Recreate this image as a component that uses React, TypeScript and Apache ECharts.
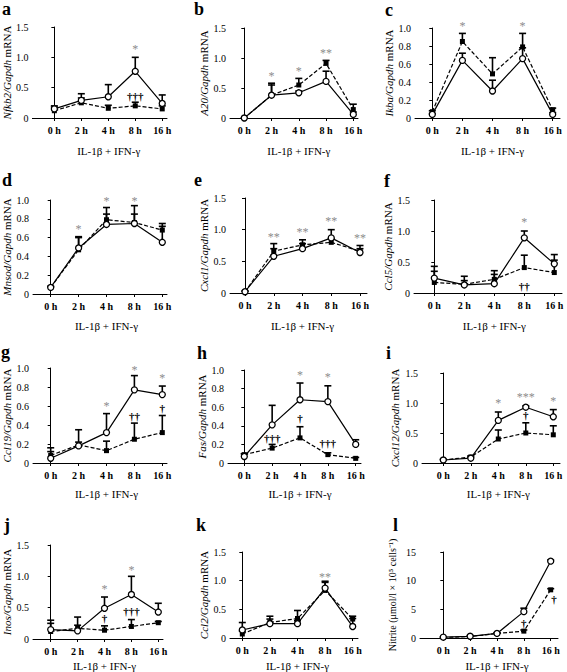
import React, { useEffect, useRef } from "react";
import * as echarts from "echarts";

const FONT = "Liberation Serif";
const times = ["0 h", "2 h", "4 h", "8 h", "16 h"];
const xTitle = "IL-1β + IFN-γ";

// a: Nfkb2
const nfkb2Solid = [0.15, 0.29, 0.35, 0.77, 0.24];
const nfkb2SolidErr = [0.2, 0.4, 0.55, 1.0, 0.38];
const nfkb2Dashed = [0.12, 0.25, 0.16, 0.2, 0.15];
const nfkb2DashedErr = [0.18, 0.33, 0.21, 0.26, 0.2];
const nfkb2Marks: [number, number, string][] = [[3, 1.13, "*"], [3, 0.37, "†††"]];
// b: A20
const a20Solid = [0, 0.38, 0.42, 0.61, 0.06];
const a20SolidErr = [0, 0.55, 0.45, 0.78, 0.1];
const a20Dashed = [0, 0.38, 0.55, 0.91, 0.14];
const a20DashedErr = [0, 0.58, 0.66, 0.96, 0.23];
const a20Marks: [number, number, string][] = [[1, 0.7, "*"], [2, 0.78, "*"], [3, 1.08, "**"]];
// c: Ikba
const ikbaSolid = [0.04, 0.64, 0.3, 0.66, 0.04];
const ikbaSolidErr = [0.05, 0.72, 0.42, 0.78, 0.06];
const ikbaDashed = [0.07, 0.85, 0.49, 0.79, 0.09];
const ikbaDashedErr = [0.08, 0.94, 0.67, 0.94, 0.11];
const ikbaMarks: [number, number, string][] = [[1, 1.02, "*"], [3, 1.02, "*"]];
// d: Mnsod
const mnsodSolid = [0.07, 0.49, 0.74, 0.75, 0.55];
const mnsodSolidErr = [0.08, 0.61, 0.85, 0.85, 0.72];
const mnsodDashed = [0.07, 0.47, 0.79, 0.76, 0.68];
const mnsodDashedErr = [0.08, 0.6, 0.92, 0.94, 0.75];
const mnsodMarks: [number, number, string][] = [[1, 0.69, "*"], [2, 0.99, "*"], [3, 0.99, "*"]];
// e: Cxcl1
const cxcl1Solid = [0.02, 0.58, 0.7, 0.87, 0.64];
const cxcl1SolidErr = [0.03, 0.7, 0.78, 1.0, 0.7];
const cxcl1Dashed = [0.02, 0.66, 0.76, 0.8, 0.66];
const cxcl1DashedErr = [0.03, 0.78, 0.84, 0.86, 0.75];
const cxcl1Marks: [number, number, string][] = [[1, 0.88, "**"], [2, 0.97, "**"], [3, 1.13, "**"], [4, 0.87, "**"]];
// f: Ccl5
const ccl5Solid = [0.24, 0.13, 0.15, 0.89, 0.47];
const ccl5SolidErr = [0.35, 0.27, 0.3, 1.0, 0.62];
const ccl5Dashed = [0.17, 0.14, 0.22, 0.41, 0.33];
const ccl5DashedErr = [0.43, 0.2, 0.36, 0.61, 0.53];
const ccl5Marks: [number, number, string][] = [[3, 1.15, "*"], [3, 0.12, "††"]];
// g: Ccl19
const ccl19Solid = [0.05, 0.18, 0.32, 0.77, 0.72];
const ccl19SolidErr = [0.16, 0.35, 0.52, 0.92, 0.81];
const ccl19Dashed = [0.08, 0.19, 0.13, 0.25, 0.32];
const ccl19DashedErr = [0.12, 0.22, 0.23, 0.42, 0.5];
const ccl19Marks: [number, number, string][] = [[2, 0.6, "*"], [3, 0.98, "*"], [4, 0.89, "*"], [3, 0.5, "††"], [4, 0.58, "†"]];
// h: Fas
const fasSolid = [0.07, 0.41, 0.68, 0.66, 0.2];
const fasSolidErr = [0.1, 0.62, 0.86, 0.83, 0.25];
const fasDashed = [0.09, 0.16, 0.27, 0.09, 0.05];
const fasDashedErr = [0.1, 0.2, 0.39, 0.11, 0.06];
const fasMarks: [number, number, string][] = [[2, 0.95, "*"], [3, 0.93, "*"], [1, 0.27, "†††"], [2, 0.48, "†"], [3, 0.22, "†††"]];
// i: Cxcl12
const cxcl12Solid = [0.05, 0.08, 0.71, 0.93, 0.77];
const cxcl12SolidErr = [0.06, 0.1, 0.85, 0.95, 0.89];
const cxcl12Dashed = [0.05, 0.1, 0.4, 0.5, 0.47];
const cxcl12DashedErr = [0.06, 0.12, 0.55, 0.67, 0.62];
const cxcl12Marks: [number, number, string][] = [[2, 1.0, "*"], [3, 1.1, "***"], [4, 1.04, "*"], [3, 0.8, "†"]];
// j: Inos
const inosSolid = [0.15, 0.13, 0.49, 0.71, 0.43];
const inosSolidErr = [0.3, 0.35, 0.67, 1.0, 0.57];
const inosDashed = [0.12, 0.17, 0.14, 0.2, 0.26];
const inosDashedErr = [0.25, 0.22, 0.21, 0.31, 0.28];
const inosMarks: [number, number, string][] = [[2, 0.8, "*"], [3, 1.1, "*"], [2, 0.33, "†"], [3, 0.44, "†††"]];
// k: Ccl2
const ccl2Solid = [0.14, 0.25, 0.25, 0.87, 0.2];
const ccl2SolidErr = [0.27, 0.33, 0.3, 0.97, 0.34];
const ccl2Dashed = [0.07, 0.27, 0.34, 0.83, 0.33];
const ccl2DashedErr = [0.12, 0.38, 0.48, 0.99, 0.38];
const ccl2Marks: [number, number, string][] = [[3, 1.07, "**"]];
// l: Nitrite
const nitriteSolid = [0.15, 0.3, 0.8, 4.6, 13.4];
const nitriteSolidErr = [0.2, 0.4, 0.9, 5.2, 13.6];
const nitriteDashed = [0.1, 0.25, 0.8, 1.2, 8.4];
const nitriteDashedErr = [0.15, 0.3, 0.9, 1.4, 8.6];
const nitriteMarks: [number, number, string][] = [[3, 2.7, "†"], [4.12, 6.8, "†"]];

type Panel = {
  id: string; yName: string; s: number[]; se: number[]; d: number[]; de: number[];
  ann: [number, number, string][]; ymax: number; yint: number; dec: number;
  L: number; R: number; T: number; B: number; x0: number; x4: number;
  nameCx: number; xGap: number; letter: [number, number];
};

const panels: Panel[] = [
  { id: "a", yName: "{i|Nfkb2/Gapdh} mRNA", s: nfkb2Solid, se: nfkb2SolidErr, d: nfkb2Dashed, de: nfkb2DashedErr, ann: nfkb2Marks, ymax: 1.5, yint: 0.5, dec: 1, L: 26, R: 167, T: 27, B: 118, x0: 49, x4: 162, nameCx: 7, xGap: 27, letter: [2, 0] },
  { id: "b", yName: "{i|A20/Gapdh} mRNA", s: a20Solid, se: a20SolidErr, d: a20Dashed, de: a20DashedErr, ann: a20Marks, ymax: 1.5, yint: 0.5, dec: 1, L: 230, R: 358, T: 28, B: 118, x0: 244.3, x4: 353.3, nameCx: 207, xGap: 27, letter: [194, 0] },
  { id: "c", yName: "{i|Ikba/Gapdh} mRNA", s: ikbaSolid, se: ikbaSolidErr, d: ikbaDashed, de: ikbaDashedErr, ann: ikbaMarks, ymax: 1.0, yint: 0.2, dec: 1, L: 415, R: 560, T: 28, B: 118, x0: 432.3, x4: 552.7, nameCx: 392, xGap: 27, letter: [385, 1] },
  { id: "d", yName: "{i|Mnsod/Gapdh} mRNA", s: mnsodSolid, se: mnsodSolidErr, d: mnsodDashed, de: mnsodDashedErr, ann: mnsodMarks, ymax: 1.0, yint: 0.2, dec: 1, L: 33, R: 167, T: 200, B: 294, x0: 50.7, x4: 162.3, nameCx: 7, xGap: 26, letter: [2, 171] },
  { id: "e", yName: "{i|Cxcl1/Gapdh} mRNA", s: cxcl1Solid, se: cxcl1SolidErr, d: cxcl1Dashed, de: cxcl1DashedErr, ann: cxcl1Marks, ymax: 1.5, yint: 0.5, dec: 1, L: 230, R: 367, T: 198, B: 293, x0: 245, x4: 360, nameCx: 207, xGap: 27, letter: [194, 171] },
  { id: "f", yName: "{i|Ccl5/Gapdh} mRNA", s: ccl5Solid, se: ccl5SolidErr, d: ccl5Dashed, de: ccl5DashedErr, ann: ccl5Marks, ymax: 1.5, yint: 0.5, dec: 1, L: 414, R: 562, T: 200, B: 293, x0: 434.3, x4: 554.3, nameCx: 392, xGap: 27, letter: [384, 172] },
  { id: "g", yName: "{i|Ccl19/Gapdh} mRNA", s: ccl19Solid, se: ccl19SolidErr, d: ccl19Dashed, de: ccl19DashedErr, ann: ccl19Marks, ymax: 1.0, yint: 0.2, dec: 1, L: 33, R: 167, T: 368, B: 463, x0: 50.7, x4: 162.3, nameCx: 7, xGap: 25, letter: [1, 343] },
  { id: "h", yName: "{i|Fas/Gapdh} mRNA", s: fasSolid, se: fasSolidErr, d: fasDashed, de: fasDashedErr, ann: fasMarks, ymax: 1.0, yint: 0.2, dec: 1, L: 228, R: 361, T: 370, B: 463, x0: 244.3, x4: 355.7, nameCx: 207, xGap: 25, letter: [197, 344] },
  { id: "i", yName: "{i|Cxcl12/Gapdh} mRNA", s: cxcl12Solid, se: cxcl12SolidErr, d: cxcl12Dashed, de: cxcl12DashedErr, ann: cxcl12Marks, ymax: 1.5, yint: 0.5, dec: 1, L: 422, R: 560, T: 373, B: 463, x0: 443.3, x4: 553.3, nameCx: 395, xGap: 25, letter: [386, 344] },
  { id: "j", yName: "{i|Inos/Gapdh} mRNA", s: inosSolid, se: inosSolidErr, d: inosDashed, de: inosDashedErr, ann: inosMarks, ymax: 1.5, yint: 0.5, dec: 1, L: 33, R: 163, T: 545, B: 643, x0: 50.7, x4: 158.3, nameCx: 7, xGap: 21, letter: [4, 516] },
  { id: "k", yName: "{i|Ccl2/Gapdh} mRNA", s: ccl2Solid, se: ccl2SolidErr, d: ccl2Dashed, de: ccl2DashedErr, ann: ccl2Marks, ymax: 1.5, yint: 0.5, dec: 1, L: 230, R: 358, T: 552, B: 642, x0: 242.3, x4: 352.7, nameCx: 207, xGap: 22, letter: [196, 516] },
  { id: "l", yName: "Nitrite (μmol/l × 10⁵ cells⁻¹)", s: nitriteSolid, se: nitriteSolidErr, d: nitriteDashed, de: nitriteDashedErr, ann: nitriteMarks, ymax: 15, yint: 5, dec: 0, L: 420, R: 558, T: 552, B: 642, x0: 443.3, x4: 550.7, nameCx: 392, xGap: 22, letter: [393, 516] },
];

function buildOption() {
  const grid: any[] = [];
  const xAxis: any[] = [];
  const yAxis: any[] = [];
  const series: any[] = [];
  const title: any[] = [];

  panels.forEach((p, i) => {
    const sp = (p.x4 - p.x0) / 4;
    const xmin = (p.L - p.x0) / sp;
    const xmax = (p.R - p.x0) / sp;
    const shift = (2 - (xmin + xmax) / 2) * sp;
    grid.push({ left: p.L, top: p.T, width: p.R - p.L, height: p.B - p.T, containLabel: false });
    xAxis.push({
      type: "value", gridIndex: i, min: xmin, max: xmax,
      axisLine: { show: true, onZero: false, lineStyle: { color: "#000", width: 1 } },
      axisTick: { show: true, customValues: [0, 1, 2, 3, 4], length: 3, lineStyle: { color: "#000" } },
      axisLabel: {
        customValues: [0, 1, 2, 3, 4], formatter: (v: number) => times[Math.round(v)] ?? "",
        fontFamily: FONT, fontSize: 10, fontWeight: "bold", color: "#000", margin: 7,
      },
      splitLine: { show: false },
      name: xTitle, nameLocation: "middle", nameGap: p.xGap,
      nameTextStyle: {
        fontFamily: FONT, fontSize: 11, color: "#000",
        padding: shift >= 0 ? [0, 0, 0, 2 * shift] : [0, -2 * shift, 0, 0],
      },
    });
    const nameSize = p.id === "l" ? 10 : 11;
    yAxis.push({
      type: "value", gridIndex: i, min: 0, max: p.ymax, interval: p.yint,
      axisLine: { show: true, lineStyle: { color: "#000", width: 1 } },
      axisTick: { show: true, length: 3, lineStyle: { color: "#000" } },
      axisLabel: {
        formatter: (v: number) => (v === 0 ? "0" : v.toFixed(p.dec)),
        fontFamily: FONT, fontSize: 10, color: "#000", margin: 4,
      },
      splitLine: { show: false },
      name: p.yName, nameLocation: "middle", nameRotate: 90,
      nameGap: p.L - p.nameCx - nameSize / 2,
      nameTextStyle: {
        fontFamily: FONT, fontSize: nameSize, color: "#000",
        rich: { i: { fontFamily: FONT, fontSize: nameSize, fontStyle: "italic", color: "#000" } },
      },
    });
    title.push({
      text: p.id, left: p.letter[0], top: p.letter[1], padding: 0,
      textStyle: { fontFamily: FONT, fontWeight: "bold", fontSize: 18, color: "#000" },
    });

    const errData: number[][] = [];
    p.s.forEach((v, k) => errData.push([k, v, p.se[k]]));
    p.d.forEach((v, k) => errData.push([k, v, p.de[k]]));
    series.push({
      type: "custom", xAxisIndex: i, yAxisIndex: i, silent: true, z: 2,
      data: errData,
      renderItem: (params: any, api: any) => {
        const x = api.value(0), y = api.value(1), e = api.value(2);
        const a = api.coord([x, y]);
        const b = api.coord([x, e]);
        return {
          type: "group",
          children: [
            { type: "line", shape: { x1: a[0], y1: a[1], x2: b[0], y2: b[1] }, style: { stroke: "#000", lineWidth: 1.6 } },
            { type: "line", shape: { x1: b[0] - 3.5, y1: b[1], x2: b[0] + 3.5, y2: b[1] }, style: { stroke: "#000", lineWidth: 1.6 } },
          ],
        };
      },
    });
    series.push({
      type: "line", xAxisIndex: i, yAxisIndex: i, silent: true, z: 3,
      data: p.d.map((v, k) => [k, v]),
      symbol: "rect", symbolSize: 5, showSymbol: true,
      lineStyle: { color: "#000", width: 1.2, type: [4, 2] },
      itemStyle: { color: "#000" },
    });
    series.push({
      type: "line", xAxisIndex: i, yAxisIndex: i, silent: true, z: 4,
      data: p.s.map((v, k) => [k, v]),
      symbol: "circle", symbolSize: 6, showSymbol: true,
      lineStyle: { color: "#000", width: 1.2 },
      itemStyle: { color: "#fff", borderColor: "#000", borderWidth: 1.3 },
    });
    series.push({
      type: "custom", xAxisIndex: i, yAxisIndex: i, silent: true, z: 5,
      data: p.ann.map((m) => [m[0], m[1]]),
      renderItem: (params: any, api: any) => {
        const m = p.ann[params.dataIndex];
        const c = api.coord([m[0], m[1]]);
        const star = m[2].includes("*");
        return {
          type: "text", x: c[0], y: c[1],
          style: {
            text: m[2], fill: star ? "#8c8c8c" : "#000", fontSize: star ? 12 : 11,
            fontWeight: star ? "normal" : "bold",
            fontFamily: FONT, align: "center", verticalAlign: "middle",
          },
        };
      },
    });
  });

  return { animation: false, backgroundColor: "#fff", title, grid, xAxis, yAxis, series };
}

export default function App() {
  const ref = useRef<HTMLDivElement>(null);
  useEffect(() => {
    if (!ref.current) return;
    const chart = echarts.init(ref.current, undefined, { renderer: "svg" });
    chart.setOption(buildOption() as any);
    return () => chart.dispose();
  }, []);
  return (
    <div
      ref={ref}
      style={{ position: "fixed", left: 0, top: 0, width: 567, height: 672, background: "#fff" }}
    />
  );
}
